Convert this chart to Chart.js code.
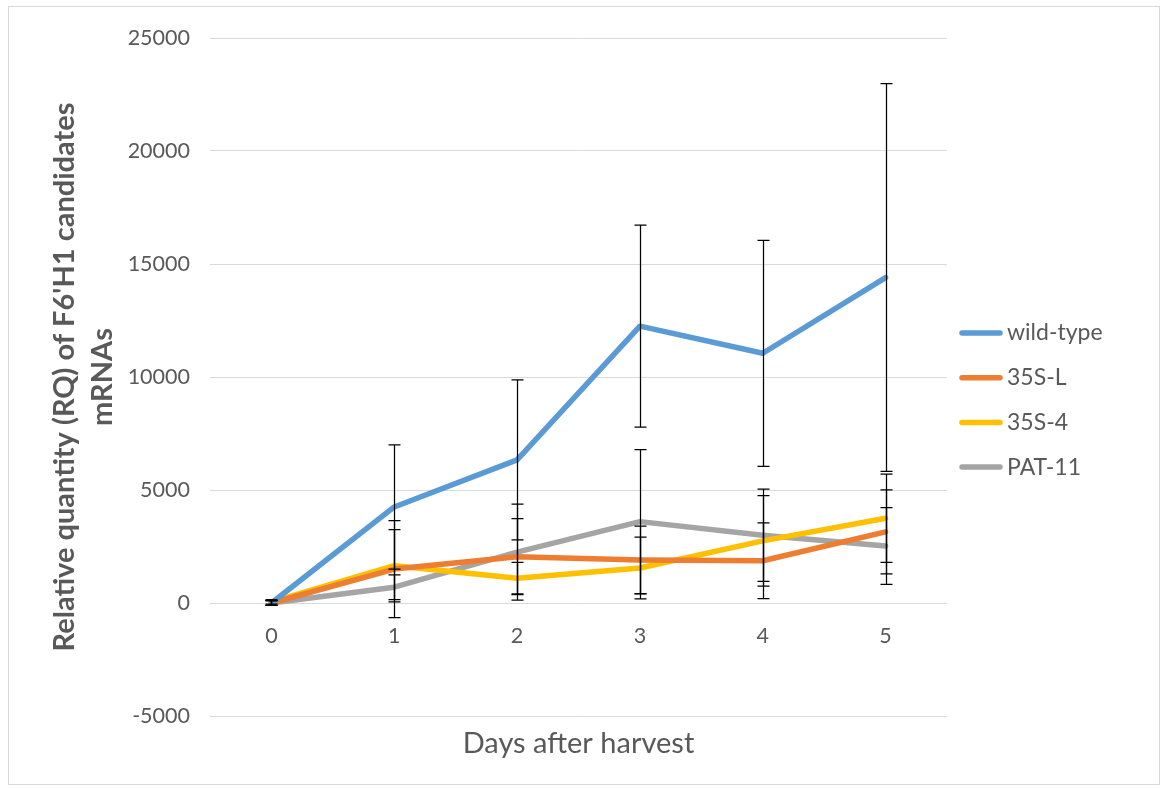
<!DOCTYPE html>
<html>
<head>
<meta charset="utf-8">
<script src="https://cdn.jsdelivr.net/npm/chart.js@4"></script>
<style>
  html, body { margin: 0; padding: 0; background: #ffffff; }
  #wrap { width: 1168px; height: 789px; position: relative; }
</style>
</head>
<body>
<div id="wrap"><canvas id="chart" width="1168" height="789"></canvas></div>
<script>
// Days after harvest (category axis)
const days = ['0', '1', '2', '3', '4', '5'];

// Series names
const seriesNames = ['wild-type', '35S-L', '35S-4', 'PAT-11'];

// Relative quantity means and their error (+/-) per day
const wildType    = [0, 4250, 6330, 12250, 11050, 14400];
const wildTypeErr = [100, 2750, 3540, 4470, 5000, 8580];
const line35SL    = [0, 1500, 2050, 1900, 1870, 3150];
const line35SLErr = [100, 2150, 1680, 1500, 1680, 1860];
const line354     = [50, 1650, 1100, 1550, 2750, 3750];
const line354Err  = [100, 1600, 700, 1370, 2000, 1950];
const pat11       = [0, 700, 2250, 3600, 3000, 2520];
const pat11Err    = [100, 550, 2120, 3190, 2040, 1700];

// Value axis range
const yMin = -5000;
const yMax = 25000;
const yStep = 5000;

const seriesColors = ['#5B9BD5', '#ED7D31', '#FFC000', '#A5A5A5'];
const textColor = '#595959';
const fontFamily = 'Lato, "Open Sans", sans-serif';

const seriesValues = [wildType, line35SL, line354, pat11];
const seriesErrors = [wildTypeErr, line35SLErr, line354Err, pat11Err];

// Outer chart frame
const framePlugin = {
  id: 'frame',
  beforeDraw(chart) {
    const ctx = chart.ctx;
    ctx.save();
    ctx.fillStyle = '#ffffff';
    ctx.fillRect(0, 0, chart.width, chart.height);
    ctx.strokeStyle = '#D9D9D9';
    ctx.lineWidth = 1;
    ctx.strokeRect(8.5, 6.5, 1151, 778);
    ctx.restore();
  }
};

// Vertical error bars with caps, drawn from each dataset's errors array
const errorBarPlugin = {
  id: 'errorBars',
  afterDatasetsDraw(chart) {
    const ctx = chart.ctx;
    const yScale = chart.scales.y;
    ctx.save();
    ctx.strokeStyle = '#000000';
    ctx.lineWidth = 1.25;
    chart.data.datasets.forEach((ds, i) => {
      const meta = chart.getDatasetMeta(i);
      meta.data.forEach((pt, j) => {
        const v = ds.data[j];
        const e = ds.errors[j];
        const yTop = yScale.getPixelForValue(v + e);
        const yBot = yScale.getPixelForValue(v - e);
        const x = Math.round(pt.x) + 0.5;
        ctx.beginPath();
        ctx.moveTo(x, yTop);
        ctx.lineTo(x, yBot);
        ctx.moveTo(x - 6, yTop);
        ctx.lineTo(x + 6, yTop);
        ctx.moveTo(x - 6, yBot);
        ctx.lineTo(x + 6, yBot);
        ctx.stroke();
      });
    });
    ctx.restore();
  }
};

// Legend on the right side, one line sample per series
const sideLegendPlugin = {
  id: 'sideLegend',
  afterDraw(chart) {
    const ctx = chart.ctx;
    const area = chart.chartArea;
    ctx.save();
    ctx.font = '23px ' + fontFamily;
    ctx.textBaseline = 'middle';
    ctx.textAlign = 'left';
    chart.data.datasets.forEach((ds, i) => {
      const y = area.top + 295 + i * 44.7;
      const x0 = area.right + 15;
      ctx.strokeStyle = ds.borderColor;
      ctx.lineWidth = 5.5;
      ctx.lineCap = 'round';
      ctx.beginPath();
      ctx.moveTo(x0, y);
      ctx.lineTo(x0 + 38, y);
      ctx.stroke();
      ctx.fillStyle = textColor;
      ctx.fillText(ds.label, x0 + 45, y);
    });
    ctx.restore();
  }
};

const datasets = seriesNames.map((name, i) => ({
  label: name,
  data: seriesValues[i],
  errors: seriesErrors[i],
  borderColor: seriesColors[i],
  backgroundColor: seriesColors[i],
  borderWidth: 5.5,
  pointRadius: 0,
  pointHoverRadius: 0,
  tension: 0,
  borderCapStyle: 'round',
  borderJoinStyle: 'round',
  fill: false
}));

new Chart(document.getElementById('chart'), {
  type: 'line',
  data: { labels: days, datasets },
  plugins: [framePlugin, errorBarPlugin, sideLegendPlugin],
  options: {
    responsive: false,
    animation: false,
    events: [],
    layout: { padding: { top: 38, left: 8, right: 221, bottom: 8 } },
    plugins: {
      legend: { display: false },
      tooltip: { enabled: false },
      title: {
        display: true,
        position: 'bottom',
        fullSize: false,
        text: 'Days after harvest',
        color: textColor,
        font: { family: fontFamily, size: 29, weight: 'normal', lineHeight: 1.2 },
        padding: { top: 10, bottom: 20.2 }
      }
    },
    scales: {
      x: {
        type: 'category',
        position: { y: 0 },
        offset: true,
        grid: { display: false, drawTicks: false },
        border: { display: false },
        ticks: { color: textColor, font: { family: fontFamily, size: 21.5 }, padding: 20 }
      },
      y: {
        min: yMin,
        max: yMax,
        ticks: {
          stepSize: yStep,
          color: textColor,
          font: { family: fontFamily, size: 21.5 },
          padding: 20,
          format: { useGrouping: false }
        },
        grid: { color: '#D9D9D9', lineWidth: 1, drawTicks: false },
        border: { display: false },
        title: {
          display: true,
          text: ["Relative quantity (RQ) of F6'H1 candidates", 'mRNAs'],
          color: textColor,
          font: { family: fontFamily, size: 29, weight: 'bold', lineHeight: 1.3 },
          padding: { top: 38, bottom: 0 }
        },
        afterFit(scale) { scale.width = 202; }
      }
    }
  }
});
</script>
</body>
</html>
